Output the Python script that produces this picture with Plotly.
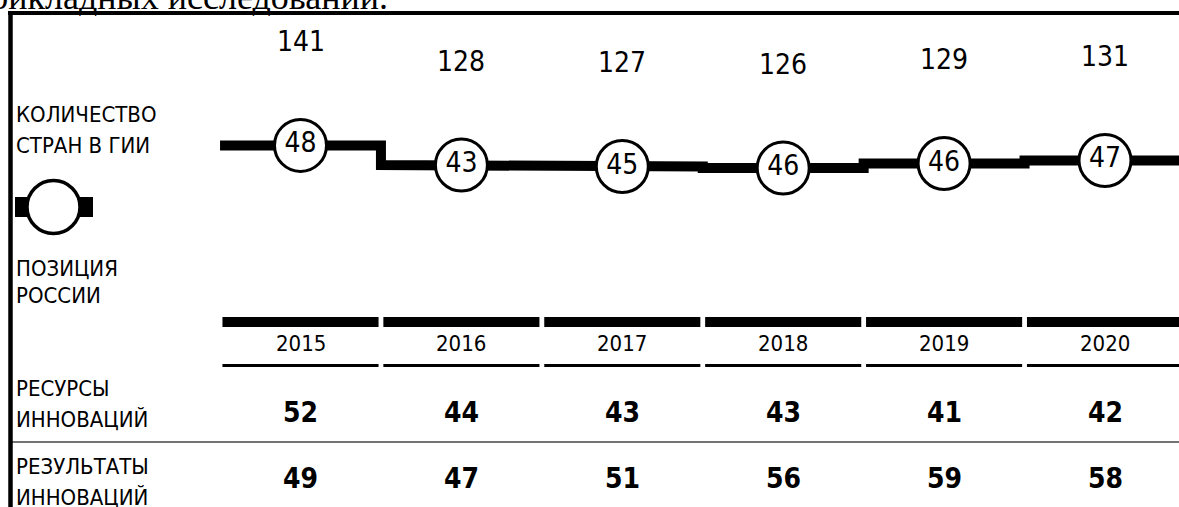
import plotly.graph_objects as go

# ---- data ----
years = [2015, 2016, 2017, 2018, 2019, 2020]
countries_in_gii = [141, 128, 127, 126, 129, 131]
russia_rank = [48, 43, 45, 46, 46, 47]
innovation_inputs = [52, 44, 43, 43, 41, 42]
innovation_outputs = [49, 47, 51, 56, 59, 58]

label_count = ["КОЛИЧЕСТВО", "СТРАН В ГИИ"]
label_rank = ["ПОЗИЦИЯ", "РОССИИ"]
label_inputs = ["РЕСУРСЫ", "ИННОВАЦИЙ"]
label_outputs = ["РЕЗУЛЬТАТЫ", "ИННОВАЦИЙ"]
top_text = "прикладных исследований."

# ---- layout constants ----
W, H = 1179, 507
NARROW = "Liberation Sans Narrow, DejaVu Sans Condensed, Liberation Sans, Arial, sans-serif"
SERIF = "Liberation Serif, Times New Roman, serif"


def py(pix):
    return 1 - pix / H


def px(pix):
    return pix / W


fig = go.Figure()

# step line of number of countries
sx, sy = [], []
for yr, c in zip(years, countries_in_gii):
    sx += [yr - 0.5, yr + 0.5]
    sy += [c, c]
fig.add_trace(go.Scatter(x=sx, y=sy, mode="lines",
                         line=dict(color="black", width=10, shape="linear"),
                         hoverinfo="skip", showlegend=False, cliponaxis=False))

# rank circles
fig.add_trace(go.Scatter(x=years, y=countries_in_gii, mode="markers+text",
                         marker=dict(size=52, color="white",
                                     line=dict(color="black", width=3)),
                         text=[str(r) for r in russia_rank],
                         textposition="middle center",
                         textfont=dict(family=NARROW, size=28, color="black"),
                         hoverinfo="skip", showlegend=False, cliponaxis=False))

shapes = []
annotations = []

# counts above the line
for yr, c in zip(years, countries_in_gii):
    annotations.append(dict(x=yr, y=c, xref="x", yref="y", text=str(c),
                            showarrow=False, yshift=104, yanchor="middle",
                            font=dict(family=NARROW, size=28, color="black")))

# year header bars and labels
for yr in years:
    shapes.append(dict(type="rect", xref="x", yref="paper",
                       x0=yr - 0.485, x1=yr + 0.485, y0=py(327), y1=py(317),
                       fillcolor="black", line=dict(width=0)))
    shapes.append(dict(type="rect", xref="x", yref="paper",
                       x0=yr - 0.485, x1=yr + 0.485, y0=py(367), y1=py(364),
                       fillcolor="black", line=dict(width=0)))
    annotations.append(dict(x=yr, y=py(343), xref="x", yref="paper", text=str(yr),
                            showarrow=False, yanchor="middle",
                            font=dict(family=NARROW, size=22, color="black")))

for yr, v in zip(years, innovation_inputs):
    annotations.append(dict(x=yr, y=py(412), xref="x", yref="paper",
                            text="<b>%d</b>" % v, showarrow=False, yanchor="middle",
                            font=dict(family=NARROW, size=28, color="black")))
for yr, v in zip(years, innovation_outputs):
    annotations.append(dict(x=yr, y=py(478), xref="x", yref="paper",
                            text="<b>%d</b>" % v, showarrow=False, yanchor="middle",
                            font=dict(family=NARROW, size=28, color="black")))

# separator line between the two rows
shapes.append(dict(type="line", xref="paper", yref="paper",
                   x0=px(10), x1=1, y0=py(442), y1=py(442),
                   line=dict(color="#444444", width=1.5)))

# frame: top and left border
shapes.append(dict(type="line", xref="paper", yref="paper",
                   x0=px(8), x1=1, y0=py(13), y1=py(13),
                   line=dict(color="black", width=4)))
shapes.append(dict(type="line", xref="paper", yref="paper",
                   x0=px(10.5), x1=px(10.5), y0=0, y1=py(11),
                   line=dict(color="black", width=4.5)))

# legend symbol: circle with side bars
shapes.append(dict(type="rect", xref="paper", yref="paper",
                   x0=px(15), x1=px(40), y0=py(217), y1=py(197),
                   fillcolor="black", line=dict(width=0)))
shapes.append(dict(type="rect", xref="paper", yref="paper",
                   x0=px(68), x1=px(93), y0=py(217), y1=py(197),
                   fillcolor="black", line=dict(width=0)))
shapes.append(dict(type="circle", xref="paper", yref="paper",
                   xsizemode="pixel", ysizemode="pixel",
                   xanchor=px(53.5), yanchor=py(207),
                   x0=-26.5, x1=26.5, y0=-26.5, y1=26.5,
                   fillcolor="white", line=dict(color="black", width=3.5)))

# left labels
def add_label(lines, ys):
    for t, yy in zip(lines, ys):
        annotations.append(dict(x=px(14), y=py(yy), xref="paper", yref="paper",
                                text=t, showarrow=False, xanchor="left",
                                yanchor="middle",
                                font=dict(family=NARROW, size=22, color="black")))

add_label(label_count, [114.5, 145])
add_label(label_rank, [268, 295])
add_label(label_inputs, [388.5, 419])
add_label(label_outputs, [466.5, 497])

# cut-off text at the very top
annotations.append(dict(x=px(390), y=py(19), xref="paper", yref="paper",
                        text=top_text, showarrow=False, xanchor="right",
                        yanchor="bottom",
                        font=dict(family=SERIF, size=36, color="black")))

# count axis: pixel_y = 161.5 - 1.51*(c - 130.33)
c_top = 130.33 + 161.5 / 1.51
c_bot = 130.33 - (H - 161.5) / 1.51
x0 = 2015 - 300.5 / 160.9
x1 = x0 + W / 160.9

fig.update_layout(
    width=W, height=H,
    margin=dict(l=0, r=0, t=0, b=0),
    paper_bgcolor="white", plot_bgcolor="white",
    xaxis=dict(range=[x0, x1], visible=False, fixedrange=True),
    yaxis=dict(range=[c_bot, c_top], visible=False, fixedrange=True),
    shapes=shapes, annotations=annotations,
    showlegend=False,
)

fig.write_html("out.html",
               config={"displayModeBar": False, "staticPlot": True},
               post_script="document.body.style.margin='0px';"
                           "document.body.style.overflow='hidden';")
